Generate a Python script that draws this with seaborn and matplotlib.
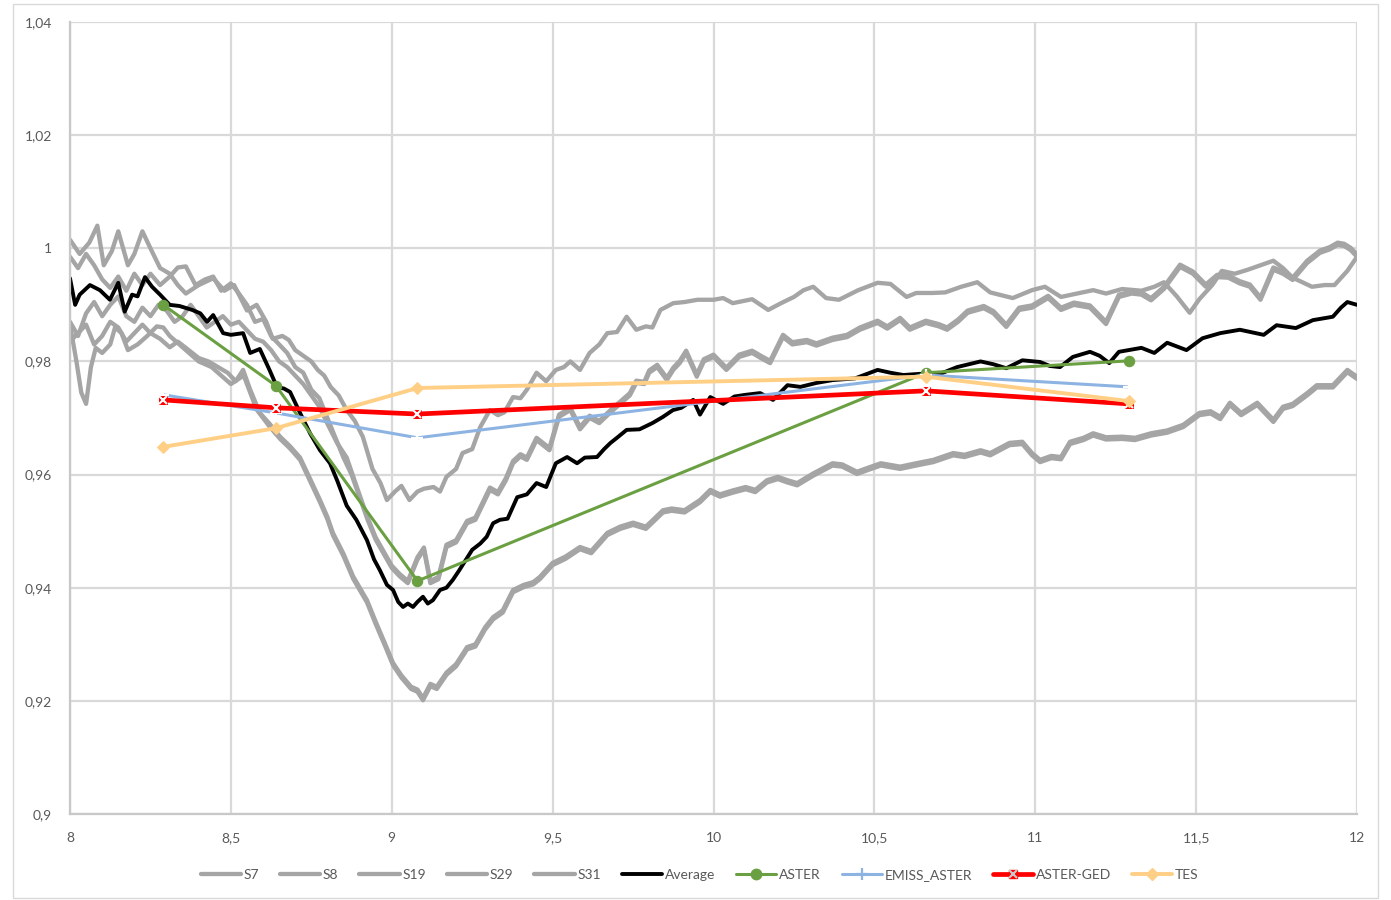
import matplotlib
matplotlib.use("Agg")
import matplotlib.pyplot as plt
from matplotlib.lines import Line2D
from matplotlib.patches import Rectangle
from matplotlib.legend_handler import HandlerTuple
from matplotlib.ticker import FuncFormatter
import seaborn as sns

# ---------------- spectra (wavelength in µm, emissivity) ----------------
s7_wl = [8.00, 8.03, 8.06, 8.085, 8.105, 8.13, 8.15, 8.18, 8.20, 8.225, 8.25, 8.28, 8.31, 8.335, 8.36,
         8.40, 8.445, 8.48, 8.51, 8.55, 8.58, 8.61, 8.63, 8.66, 8.68, 8.70, 8.725, 8.75, 8.77, 8.79,
         8.81, 8.835, 8.86, 8.885, 8.91, 8.94, 8.965, 8.985, 9.01, 9.03, 9.055, 9.08, 9.10, 9.13, 9.15,
         9.17, 9.20, 9.22, 9.25, 9.275, 9.305, 9.33, 9.35, 9.377, 9.40, 9.42, 9.45, 9.48, 9.51, 9.535,
         9.555, 9.585, 9.615, 9.645, 9.67, 9.70, 9.73, 9.76, 9.79, 9.81, 9.835, 9.875, 9.91, 9.95, 10.00,
         10.03, 10.06, 10.12, 10.17, 10.21, 10.25, 10.28, 10.31, 10.35, 10.39, 10.45, 10.51, 10.55, 10.60,
         10.63, 10.68, 10.72, 10.77, 10.82, 10.86, 10.93, 10.99, 11.03, 11.08, 11.13, 11.18, 11.22, 11.27,
         11.33, 11.37, 11.40, 11.44, 11.48, 11.51, 11.55, 11.58, 11.62, 11.66, 11.70, 11.74, 11.77, 11.80,
         11.83, 11.86, 11.90, 11.93, 11.97, 12.00]
s7_em = [1.0015, 0.9990, 1.0010, 1.0040, 0.9970, 0.9995, 1.0030, 0.9970, 0.9990, 1.0030, 1.0000, 0.9965,
         0.9955, 0.9935, 0.9920, 0.9935, 0.9947, 0.9925, 0.9935, 0.9890, 0.9900, 0.9870, 0.9840, 0.9845,
         0.9838, 0.9820, 0.9810, 0.9800, 0.9785, 0.9775, 0.9755, 0.9740, 0.9714, 0.9695, 0.9667, 0.9610,
         0.9585, 0.9555, 0.9570, 0.9580, 0.9555, 0.9570, 0.9575, 0.9578, 0.9570, 0.9596, 0.9610, 0.9638,
         0.9645, 0.9684, 0.9714, 0.9705, 0.9710, 0.9737, 0.9735, 0.9750, 0.9780, 0.9765, 0.9785, 0.9790,
         0.9800, 0.9785, 0.9815, 0.9830, 0.9850, 0.9852, 0.9879, 0.9856, 0.9862, 0.9860, 0.9891, 0.9903,
         0.9905, 0.9909, 0.9909, 0.9912, 0.9903, 0.9910, 0.9891, 0.9903, 0.9914, 0.9926, 0.9932, 0.9912,
         0.9909, 0.9926, 0.9939, 0.9937, 0.9914, 0.9921, 0.9921, 0.9922, 0.9932, 0.9940, 0.9922, 0.9912,
         0.9926, 0.9932, 0.9914, 0.9920, 0.9926, 0.9920, 0.9928, 0.9925, 0.9932, 0.9940, 0.9915, 0.9886,
         0.9910, 0.9935, 0.9960, 0.9955, 0.9962, 0.9970, 0.9978, 0.9965, 0.9948, 0.9940, 0.9932, 0.9935,
         0.9935, 0.9960, 0.9985]

s8_wl = [8.00, 8.025, 8.05, 8.075, 8.10, 8.125, 8.15, 8.175, 8.20, 8.225, 8.25, 8.28, 8.31, 8.335, 8.36,
         8.39, 8.42, 8.445, 8.47, 8.50, 8.525, 8.55, 8.575, 8.60, 8.625, 8.65, 8.675, 8.70, 8.725, 8.75,
         8.775, 8.80, 8.825, 8.85, 8.875, 8.90, 8.925, 8.95, 8.975, 9.00, 9.025, 9.05, 9.08, 9.10, 9.12,
         9.145, 9.17, 9.20, 9.234, 9.26, 9.305, 9.33, 9.355, 9.377, 9.40, 9.42, 9.45, 9.49, 9.52, 9.555,
         9.585, 9.615, 9.645, 9.68, 9.71, 9.74, 9.76, 9.785, 9.80, 9.825, 9.855, 9.875, 9.895, 9.915,
         9.948, 9.97, 10.00, 10.04, 10.08, 10.12, 10.15, 10.176, 10.216, 10.245, 10.29, 10.32, 10.37,
         10.415, 10.455, 10.51, 10.54, 10.58, 10.61, 10.66, 10.70, 10.726, 10.76, 10.79, 10.84, 10.87,
         10.91, 10.95, 10.99, 11.04, 11.08, 11.12, 11.17, 11.22, 11.26, 11.30, 11.33, 11.36, 11.40, 11.45,
         11.49, 11.53, 11.565, 11.60, 11.635, 11.667, 11.70, 11.74, 11.77, 11.80, 11.845, 11.885, 11.915,
         11.94, 11.96, 11.98, 12.00]
s8_em = [0.9985, 0.9965, 0.9990, 0.9970, 0.9945, 0.9930, 0.9950, 0.9925, 0.9955, 0.9935, 0.9955, 0.9935,
         0.9950, 0.9966, 0.9968, 0.9935, 0.9945, 0.9950, 0.9925, 0.9938, 0.9920, 0.9900, 0.9870, 0.9875,
         0.9845, 0.9830, 0.9815, 0.9790, 0.9780, 0.9750, 0.9735, 0.9700, 0.9665, 0.9630, 0.9600, 0.9560,
         0.9520, 0.9485, 0.9460, 0.9435, 0.9420, 0.9408, 0.9450, 0.9467, 0.9408, 0.9415, 0.9472, 0.9480,
         0.9514, 0.9520, 0.9573, 0.9565, 0.9590, 0.9620, 0.9632, 0.9626, 0.9661, 0.9643, 0.9702, 0.9714,
         0.9680, 0.9700, 0.9691, 0.9710, 0.9725, 0.9740, 0.9762, 0.9760, 0.9780, 0.9790, 0.9767, 0.9785,
         0.9797, 0.9815, 0.9773, 0.9800, 0.9808, 0.9785, 0.9808, 0.9815, 0.9805, 0.9797, 0.9843, 0.9830,
         0.9834, 0.9828, 0.9838, 0.9843, 0.9856, 0.9868, 0.9858, 0.9873, 0.9856, 0.9868, 0.9862, 0.9856,
         0.9870, 0.9886, 0.9894, 0.9885, 0.9861, 0.9891, 0.9895, 0.9912, 0.9891, 0.9900, 0.9895, 0.9866,
         0.9914, 0.9920, 0.9918, 0.9908, 0.9928, 0.9967, 0.9955, 0.9932, 0.9949, 0.9948, 0.9938, 0.9932,
         0.9909, 0.9962, 0.9955, 0.9944, 0.9974, 0.9992, 0.9998, 1.0006, 1.0004, 0.9997, 0.9985]

s19_wl = [8.00, 8.025, 8.05, 8.075, 8.10, 8.125, 8.15, 8.175, 8.20, 8.225, 8.25, 8.275, 8.30, 8.325, 8.35,
          8.375, 8.40, 8.425, 8.45, 8.475, 8.50, 8.525, 8.55, 8.575, 8.60, 8.625, 8.65, 8.675, 8.70, 8.725,
          8.75, 8.775, 8.80, 8.83, 8.86,
          8.90, 8.925, 8.95, 8.975, 9.00, 9.025, 9.05, 9.08, 9.10, 9.12, 9.145, 9.17, 9.20, 9.234, 9.26,
          9.305, 9.33, 9.355, 9.377, 9.40, 9.42, 9.45, 9.49, 9.52, 9.555, 9.585, 9.615, 9.645, 9.68, 9.71,
          9.74, 9.76, 9.785, 9.80, 9.825, 9.855, 9.875, 9.895, 9.915, 9.948, 9.97, 10.00, 10.04, 10.08,
          10.12, 10.15, 10.176, 10.216, 10.245, 10.29, 10.32, 10.37, 10.415, 10.455, 10.51, 10.54, 10.58,
          10.61, 10.66, 10.70, 10.726, 10.76, 10.79, 10.84, 10.87, 10.91, 10.95, 10.99, 11.04, 11.08,
          11.12, 11.17, 11.22, 11.26, 11.30, 11.33, 11.36, 11.40, 11.45, 11.49, 11.53, 11.565, 11.60,
          11.635, 11.667, 11.70, 11.74, 11.77, 11.80, 11.845, 11.885, 11.915, 11.94, 11.96, 11.98, 12.00]
s19_em = [0.9870, 0.9845, 0.9885, 0.9905, 0.9880, 0.9900, 0.9915, 0.9880, 0.9870, 0.9895, 0.9880, 0.9900,
          0.9890, 0.9870, 0.9880, 0.9900, 0.9880, 0.9860, 0.9870, 0.9880, 0.9865, 0.9870, 0.9855, 0.9840,
          0.9835, 0.9820, 0.9800, 0.9790, 0.9775, 0.9760, 0.9740, 0.9720, 0.9690, 0.9656, 0.9630,
          0.9564, 0.9524, 0.9489, 0.9464, 0.9439, 0.9424, 0.9412, 0.9454, 0.9471, 0.9412, 0.9419, 0.9476,
          0.9484, 0.9518, 0.9524, 0.9577, 0.9569, 0.9594, 0.9624, 0.9636, 0.9630, 0.9665, 0.9647, 0.9706,
          0.9718, 0.9684, 0.9704, 0.9695, 0.9714, 0.9729, 0.9744, 0.9766, 0.9764, 0.9784, 0.9794, 0.9771,
          0.9789, 0.9801, 0.9819, 0.9777, 0.9804, 0.9812, 0.9789, 0.9812, 0.9819, 0.9809, 0.9801, 0.9847,
          0.9834, 0.9838, 0.9832, 0.9842, 0.9847, 0.9860, 0.9872, 0.9862, 0.9877, 0.9860, 0.9872, 0.9866,
          0.9860, 0.9874, 0.9890, 0.9898, 0.9889, 0.9865, 0.9895, 0.9899, 0.9916, 0.9895, 0.9904, 0.9899,
          0.9870, 0.9918, 0.9924, 0.9922, 0.9912, 0.9932, 0.9971, 0.9959, 0.9936, 0.9953, 0.9952, 0.9942,
          0.9936, 0.9913, 0.9966, 0.9959, 0.9948, 0.9978, 0.9996, 1.0002, 1.0010, 1.0008, 1.0001, 0.9989]

s29_wl = [8.00, 8.025, 8.05, 8.075, 8.10, 8.125, 8.15, 8.175, 8.20, 8.225, 8.25, 8.28, 8.31, 8.335, 8.36,
          8.40, 8.43, 8.46, 8.49, 8.515, 8.538, 8.56, 8.59, 8.62, 8.653, 8.684, 8.715, 8.74, 8.777, 8.80,
          8.817, 8.85, 8.88, 8.923, 8.95, 8.98, 9.004, 9.03, 9.06, 9.08, 9.097, 9.12, 9.14, 9.17, 9.20,
          9.234, 9.26, 9.29, 9.315, 9.345, 9.377, 9.41, 9.44, 9.46, 9.50, 9.54, 9.585, 9.62, 9.67, 9.71,
          9.75, 9.79, 9.843, 9.87, 9.91, 9.958, 9.99, 10.02, 10.06, 10.10, 10.13, 10.166, 10.20, 10.23,
          10.26, 10.31, 10.37, 10.40, 10.446, 10.48, 10.52, 10.58, 10.63, 10.683, 10.745, 10.78, 10.83,
          10.86, 10.92, 10.96, 10.99, 11.015, 11.05, 11.08, 11.108, 11.15, 11.18, 11.22, 11.27, 11.31,
          11.36, 11.41, 11.46, 11.51, 11.545, 11.575, 11.605, 11.64, 11.69, 11.74, 11.77, 11.80, 11.845,
          11.875, 11.925, 11.97, 12.00]
s29_em = [0.9835, 0.9850, 0.9865, 0.9830, 0.9845, 0.9870, 0.9860, 0.9835, 0.9850, 0.9865, 0.9850, 0.9840,
          0.9825, 0.9835, 0.9824, 0.9806, 0.9800, 0.9790, 0.9780, 0.9765, 0.9785, 0.9750, 0.9709, 0.9690,
          0.9667, 0.9650, 0.9630, 0.9600, 0.9555, 0.9525, 0.9497, 0.9460, 0.9420, 0.9378, 0.9340, 0.9300,
          0.9267, 0.9245, 0.9225, 0.9220, 0.9205, 0.9230, 0.9225, 0.9250, 0.9265, 0.9295, 0.9300, 0.9330,
          0.9348, 0.9360, 0.9396, 0.9405, 0.9410, 0.9419, 0.9444, 0.9455, 0.9472, 0.9465, 0.9497, 0.9508,
          0.9515, 0.9508, 0.9537, 0.9540, 0.9537, 0.9555, 0.9573, 0.9565, 0.9572, 0.9578, 0.9573, 0.9590,
          0.9596, 0.9590, 0.9585, 0.9602, 0.9620, 0.9618, 0.9605, 0.9612, 0.9620, 0.9614, 0.9620, 0.9626,
          0.9638, 0.9635, 0.9643, 0.9638, 0.9656, 0.9658, 0.9638, 0.9626, 0.9633, 0.9631, 0.9658, 0.9665,
          0.9673, 0.9666, 0.9667, 0.9665, 0.9673, 0.9678, 0.9688, 0.9709, 0.9712, 0.9702, 0.9727, 0.9709,
          0.9727, 0.9697, 0.9720, 0.9725, 0.9744, 0.9758, 0.9758, 0.9785, 0.9773]

s31_wl = [8.00, 8.02, 8.035, 8.05, 8.065, 8.08, 8.10, 8.125, 8.14, 8.16, 8.18, 8.21, 8.24, 8.27, 8.29,
          8.31, 8.34, 8.37, 8.40, 8.44, 8.47, 8.50, 8.54, 8.58, 8.62,
          8.653, 8.684, 8.715, 8.74, 8.777, 8.80, 8.817, 8.85, 8.88, 8.923, 8.95, 8.98, 9.004, 9.03, 9.06,
          9.08, 9.097, 9.12, 9.14, 9.17, 9.20, 9.234, 9.26, 9.29, 9.315, 9.345, 9.377, 9.41, 9.44, 9.46,
          9.50, 9.54, 9.585, 9.62, 9.67, 9.71, 9.75, 9.79, 9.843, 9.87, 9.91, 9.958, 9.99, 10.02, 10.06,
          10.10, 10.13, 10.166, 10.20, 10.23, 10.26, 10.31, 10.37, 10.40, 10.446, 10.48, 10.52, 10.58,
          10.63, 10.683, 10.745, 10.78, 10.83, 10.86, 10.92, 10.96, 10.99, 11.015, 11.05, 11.08, 11.108,
          11.15, 11.18, 11.22, 11.27, 11.31, 11.36, 11.41, 11.46, 11.51, 11.545, 11.575, 11.605, 11.64,
          11.69, 11.74, 11.77, 11.80, 11.845, 11.875, 11.925, 11.97, 12.00]
s31_em = [0.9865, 0.9800, 0.9745, 0.9725, 0.9790, 0.9824, 0.9815, 0.9830, 0.9860, 0.9850, 0.9820, 0.9830,
          0.9845, 0.9862, 0.9860, 0.9845, 0.9830, 0.9815, 0.9800, 0.9790, 0.9775, 0.9760, 0.9775, 0.9715,
          0.9685,
          0.9663, 0.9646, 0.9626, 0.9596, 0.9551, 0.9521, 0.9493, 0.9456, 0.9416, 0.9374, 0.9336, 0.9296,
          0.9263, 0.9241, 0.9221, 0.9216, 0.9201, 0.9226, 0.9221, 0.9246, 0.9261, 0.9291, 0.9296, 0.9326,
          0.9344, 0.9356, 0.9392, 0.9401, 0.9406, 0.9415, 0.9440, 0.9451, 0.9468, 0.9461, 0.9493, 0.9504,
          0.9511, 0.9504, 0.9533, 0.9536, 0.9533, 0.9551, 0.9569, 0.9561, 0.9568, 0.9574, 0.9569, 0.9586,
          0.9592, 0.9586, 0.9581, 0.9598, 0.9616, 0.9614, 0.9601, 0.9608, 0.9616, 0.9610, 0.9616, 0.9622,
          0.9634, 0.9631, 0.9639, 0.9634, 0.9652, 0.9654, 0.9634, 0.9622, 0.9629, 0.9627, 0.9654, 0.9661,
          0.9669, 0.9662, 0.9663, 0.9661, 0.9669, 0.9674, 0.9684, 0.9705, 0.9708, 0.9698, 0.9723, 0.9705,
          0.9723, 0.9693, 0.9716, 0.9721, 0.9740, 0.9754, 0.9754, 0.9781, 0.9769]

avg_wl = [8.00, 8.016, 8.03, 8.062, 8.093, 8.124, 8.15, 8.17, 8.193, 8.21, 8.233, 8.255, 8.28, 8.31, 8.34,
          8.38, 8.405, 8.426, 8.445, 8.476, 8.50, 8.538, 8.56, 8.59, 8.62, 8.643, 8.665, 8.684, 8.715,
          8.746, 8.777, 8.808, 8.83, 8.86, 8.89, 8.923, 8.945, 8.963, 8.985, 9.004, 9.02, 9.035, 9.05,
          9.066, 9.08, 9.097, 9.112, 9.128, 9.15, 9.17, 9.19, 9.21, 9.25, 9.275, 9.295, 9.315, 9.336, 9.36,
          9.39, 9.42, 9.45, 9.48, 9.51, 9.545, 9.576, 9.60, 9.638, 9.66, 9.68, 9.70, 9.73, 9.77, 9.81,
          9.843, 9.874, 9.90, 9.937, 9.958, 9.99, 10.03, 10.065, 10.10, 10.145, 10.185, 10.23, 10.27,
          10.32, 10.37, 10.44, 10.51, 10.55, 10.59, 10.64, 10.70, 10.757, 10.83, 10.87, 10.91, 10.96,
          11.015, 11.045, 11.077, 11.117, 11.17, 11.20, 11.23, 11.26, 11.33, 11.37, 11.41, 11.47, 11.52,
          11.575, 11.636, 11.71, 11.75, 11.81, 11.863, 11.925, 11.95, 11.97, 12.00]
avg_em = [0.9947, 0.9900, 0.9918, 0.9935, 0.9926, 0.9909, 0.9939, 0.9888, 0.9918, 0.9915, 0.9949, 0.9932,
          0.9918, 0.9900, 0.9898, 0.9891, 0.9885, 0.9870, 0.9882, 0.9850, 0.9847, 0.9850, 0.9815, 0.9822,
          0.9785, 0.9755, 0.9752, 0.9746, 0.9709, 0.9673, 0.9643, 0.9620, 0.9590, 0.9545, 0.9520, 0.9484,
          0.9450, 0.9431, 0.9405, 0.9396, 0.9375, 0.9366, 0.9372, 0.9366, 0.9375, 0.9384, 0.9372, 0.9378,
          0.9396, 0.9400, 0.9414, 0.9431, 0.9467, 0.9478, 0.9490, 0.9514, 0.9520, 0.9522, 0.9560, 0.9565,
          0.9585, 0.9578, 0.9620, 0.9631, 0.9620, 0.9630, 0.9631, 0.9645, 0.9656, 0.9665, 0.9679, 0.9680,
          0.9691, 0.9702, 0.9714, 0.9718, 0.9732, 0.9706, 0.9737, 0.9725, 0.9738, 0.9741, 0.9744, 0.9732,
          0.9758, 0.9755, 0.9762, 0.9767, 0.9770, 0.9785, 0.9780, 0.9776, 0.9778, 0.9777, 0.9790, 0.9800,
          0.9795, 0.9788, 0.9802, 0.9799, 0.9792, 0.9790, 0.9808, 0.9817, 0.9810, 0.9797, 0.9817, 0.9824,
          0.9815, 0.9833, 0.9820, 0.9841, 0.9850, 0.9856, 0.9847, 0.9864, 0.9859, 0.9873, 0.9879, 0.9895,
          0.9905, 0.9900]

# ---------------- band emissivities ----------------
band_wl = [8.29, 8.64, 9.08, 10.66, 11.29]
aster = [0.9900, 0.9757, 0.9412, 0.9780, 0.9801]
emiss_aster = [0.9741, 0.9709, 0.9665, 0.9776, 0.9755]
aster_ged = [0.9732, 0.9718, 0.9707, 0.9748, 0.9725]
tes = [0.9649, 0.9682, 0.9753, 0.9773, 0.9730]

# ---------------- axis ticks ----------------
x_ticks = [8, 8.5, 9, 9.5, 10, 10.5, 11, 11.5, 12]
y_ticks = [0.90, 0.92, 0.94, 0.96, 0.98, 1.00, 1.02, 1.04]

sns.set_style("white")
plt.rcParams["font.family"] = ["Lato", "DejaVu Sans"]

GRAY = "#A5A5A5"
GREEN = "#6A9F42"
BLUE = "#8DB3E2"
RED = "#FF0000"
ORANGE = "#FFCF86"
TEXT = "#595959"

W, H = 1391, 900
fig = plt.figure(figsize=(W / 100, H / 100), dpi=100)
fig.patch.set_facecolor("white")
ax = fig.add_axes([70 / W, 1 - 814 / H, (1357 - 70) / W, (814 - 22) / H])

spectra = [("S7", s7_wl, s7_em), ("S8", s8_wl, s8_em), ("S19", s19_wl, s19_em),
           ("S29", s29_wl, s29_em), ("S31", s31_wl, s31_em)]
for name, wl, em in spectra:
    sns.lineplot(x=wl, y=em, ax=ax, color=GRAY, lw=3.1, estimator=None, sort=False,
                 legend=False, solid_joinstyle="round")

sns.lineplot(x=avg_wl, y=avg_em, ax=ax, color="black", lw=2.8, estimator=None, sort=False,
             legend=False, solid_joinstyle="round")

sns.lineplot(x=band_wl, y=aster, ax=ax, color=GREEN, lw=2.2, marker="o", ms=7.5,
             mec=GREEN, mfc=GREEN, estimator=None, sort=False, legend=False)
sns.lineplot(x=band_wl, y=emiss_aster, ax=ax, color=BLUE, lw=2.2, marker="+", ms=9, mew=1.6,
             estimator=None, sort=False, legend=False)
sns.lineplot(x=band_wl, y=aster_ged, ax=ax, color=RED, lw=3.4, marker="s", ms=6,
             mec=RED, mfc=RED, estimator=None, sort=False, legend=False)
sns.lineplot(x=band_wl, y=aster_ged, ax=ax, color="#C9C9C9", linestyle="none", marker="x", ms=6,
             mew=1.5, estimator=None, sort=False, legend=False)
sns.lineplot(x=band_wl, y=tes, ax=ax, color=ORANGE, lw=2.8, marker="D", ms=6,
             mec=ORANGE, mfc=ORANGE, estimator=None, sort=False, legend=False)

ax.set_xlim(8, 12)
ax.set_ylim(0.9, 1.04)
ax.set_xticks(x_ticks)
ax.set_yticks(y_ticks)


def comma_fmt(v, _pos):
    return f"{v:g}".replace(".", ",")


ax.xaxis.set_major_formatter(FuncFormatter(comma_fmt))
ax.yaxis.set_major_formatter(FuncFormatter(comma_fmt))
ax.tick_params(axis="both", length=0, labelsize=10, labelcolor=TEXT)
ax.tick_params(axis="y", pad=13)
ax.tick_params(axis="x", pad=13)
ax.grid(True, color="#D9D9D9", lw=1.6)
ax.set_axisbelow(True)
for side in ("top", "right"):
    ax.spines[side].set_visible(False)
for side in ("left", "bottom"):
    ax.spines[side].set_color("#C8C8C8")
    ax.spines[side].set_linewidth(1.6)
ax.set_xlabel("")
ax.set_ylabel("")

# legend along the bottom
handles = [Line2D([], [], color=GRAY, lw=3.1) for _ in range(5)]
labels = [s[0] for s in spectra]
handles.append(Line2D([], [], color="black", lw=2.8))
labels.append("Average")
handles.append(Line2D([], [], color=GREEN, lw=2.2, marker="o", ms=7.5))
labels.append("ASTER")
handles.append(Line2D([], [], color=BLUE, lw=2.2, marker="+", ms=9, mew=1.6))
labels.append("EMISS_ASTER")
handles.append((Line2D([], [], color=RED, lw=3.4, marker="s", ms=6),
                Line2D([], [], color="#C9C9C9", ls="none", marker="x", ms=6, mew=1.5)))
labels.append("ASTER-GED")
handles.append(Line2D([], [], color=ORANGE, lw=2.8, marker="D", ms=6))
labels.append("TES")

fig.legend(handles, labels, loc="center", bbox_to_anchor=(0.503, 1 - 875 / H), ncol=10,
           frameon=False, fontsize=10, labelcolor=TEXT, handlelength=2.9, handletextpad=0.2,
           columnspacing=1.5, numpoints=1, handler_map={tuple: HandlerTuple(ndivide=1)})

# light chart-area border
fig.patches.append(Rectangle((13 / W, 2 / H), (1378 - 13) / W, (897 - 3) / H,
                             transform=fig.transFigure, fill=False, edgecolor="#D9D9D9", lw=1.0))

fig.savefig("out.png", dpi=100, facecolor="white")
